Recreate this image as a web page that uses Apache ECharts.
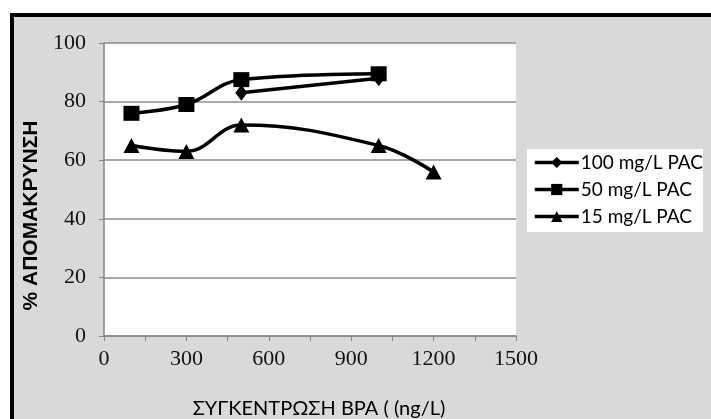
<!DOCTYPE html>
<html>
<head>
<meta charset="utf-8">
<script src="https://cdn.jsdelivr.net/npm/echarts@6/dist/echarts.min.js"></script>
<style>
  html, body { margin: 0; padding: 0; background: #ffffff; }
  #chart { width: 711px; height: 419px; }
</style>
</head>
<body>
<div id="chart"></div>
<script>
// BPA removal (%) against BPA concentration for three PAC doses
const seriesNames = ['100 mg/L PAC', '50 mg/L PAC', '15 mg/L PAC'];
const concentrations100 = [500, 1000];
const removal100 = [83, 88];
const concentrations50 = [100, 300, 500, 1000];
const removal50 = [76, 79, 87.5, 89.5];
const concentrations15 = [100, 300, 500, 1000, 1200];
const removal15 = [65, 63, 72, 65, 56];

const xTicks = [0, 300, 600, 900, 1200, 1500];
const yTicks = [0, 20, 40, 60, 80, 100];

const pairs = (xs, ys) => xs.map((x, i) => [x, ys[i]]);

const chart = echarts.init(document.getElementById('chart'));

const lineStyle = { color: '#000', width: 3.5 };
const itemStyle = { color: '#000' };

chart.setOption({
  animation: false,
  graphic: [{
    type: 'rect',
    z: -10,
    shape: { x: 12, y: 15, width: 760, height: 460 },
    style: { fill: '#d9d9d9', stroke: '#000', lineWidth: 4 }
  }],
  grid: {
    left: 104, right: 195, top: 43, bottom: 83,
    outerBoundsMode: 'none',
    containLabel: false,
    show: true, backgroundColor: '#ffffff', borderWidth: 0
  },
  legend: {
    left: 527, top: 149,
    orient: 'vertical',
    backgroundColor: '#ffffff',
    padding: [4, 0, 6, 6],
    itemWidth: 44, itemHeight: 14, itemGap: 8,
    lineStyle: { width: 3.5 },
    data: seriesNames,
    textStyle: { fontFamily: 'Lato', fontSize: 19, color: '#000', padding: [0, 0, 0, -3] }
  },
  xAxis: {
    type: 'value',
    min: xTicks[0], max: xTicks[xTicks.length - 1], interval: 300,
    name: 'ΣΥΓΚΕΝΤΡΩΣΗ BPA ( (ng/L)',
    nameLocation: 'middle', nameGap: 63,
    nameTextStyle: { fontFamily: 'Lato', fontSize: 20, color: '#000', padding: [0, 0, 0, 18] },
    axisLine: { lineStyle: { color: '#868686', width: 1.5 } },
    axisTick: { show: true, length: 5, lineStyle: { color: '#868686' } },
    minorTick: { show: true, splitNumber: 2, length: 5, lineStyle: { color: '#868686' } },
    axisLabel: {
      margin: 12, fontFamily: 'Liberation Serif', fontSize: 22, color: '#111',
      formatter: (v) => String(v)
    },
    splitLine: { show: false }
  },
  yAxis: {
    type: 'value',
    min: yTicks[0], max: yTicks[yTicks.length - 1], interval: 20,
    name: '% ΑΠΟΜΑΚΡΥΝΣΗ',
    nameLocation: 'middle', nameGap: 62,
    nameTextStyle: {
      fontFamily: 'Liberation Sans', fontWeight: 'bold', fontSize: 21, color: '#000',
      padding: [0, 52, 0, 0]
    },
    axisLine: { show: true, lineStyle: { color: '#868686', width: 1.5 } },
    axisTick: { show: true, length: 5, lineStyle: { color: '#868686' } },
    axisLabel: {
      margin: 18, fontFamily: 'Liberation Serif', fontSize: 22, color: '#111',
      formatter: (v) => String(v)
    },
    splitLine: { lineStyle: { color: '#8c8c8c', width: 1.5 } }
  },
  series: [
    {
      name: seriesNames[0], type: 'line', smooth: 0.4,
      data: pairs(concentrations100, removal100),
      symbol: 'diamond', symbolSize: [12, 16],
      lineStyle, itemStyle, z: 2
    },
    {
      name: seriesNames[1], type: 'line', smooth: 0.4,
      data: pairs(concentrations50, removal50),
      symbol: 'rect', symbolSize: [16, 15],
      lineStyle, itemStyle, z: 3
    },
    {
      name: seriesNames[2], type: 'line', smooth: 0.4,
      data: pairs(concentrations15, removal15),
      symbol: 'triangle', symbolSize: [16, 15],
      lineStyle, itemStyle, z: 3
    }
  ]
});
</script>
</body>
</html>
